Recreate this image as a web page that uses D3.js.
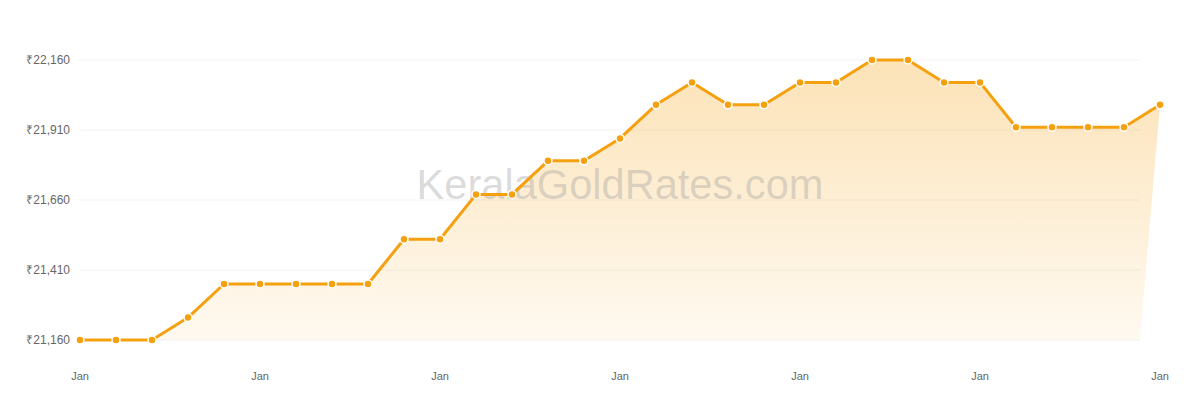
<!DOCTYPE html>
<html>
<head>
<meta charset="utf-8">
<script src="https://cdn.jsdelivr.net/npm/d3@7"></script>
<style>
  html, body { margin: 0; padding: 0; background: #fff; }
  svg { display: block; font-family: "Liberation Sans", Arial, sans-serif; }
  .tick-label { fill: #666; }
</style>
</head>
<body>
<svg id="chart" width="1200" height="400"></svg>
<script>
// daily gold rate (per 8 gram)
const RATES = [
  21160, 21160, 21160, 21240, 21360, 21360, 21360, 21360, 21360, 21520,
  21520, 21680, 21680, 21800, 21800, 21880, 22000, 22080, 22000, 22000,
  22080, 22080, 22160, 22160, 22080, 22080, 21920, 21920, 21920, 21920,
  22000,
];
const Y_TICKS = [21160, 21410, 21660, 21910, 22160];
// x-axis labels every fifth point
const X_LABEL_INDEX = [0, 5, 10, 15, 20, 25, 30];
const X_LABEL = "Jan";

const config = {
  left: 80,
  right: 1160,
  gridRight: 1140,
  top: 60,
  bottom: 340,
  color: "#f5a00f",
};

const svg = d3.select("#chart");

// point index scale (x-axis)
const xScale = d3
  .scaleLinear()
  .domain([0, RATES.length - 1])
  .range([config.left, config.right]);

// rate scale (y-axis)
const yScale = d3
  .scaleLinear()
  .domain([Y_TICKS[0], Y_TICKS[Y_TICKS.length - 1]])
  .range([config.bottom, config.top]);

// gradient for the area fill
const grad = svg
  .append("defs")
  .append("linearGradient")
  .attr("id", "fill-grad")
  .attr("x1", 0)
  .attr("y1", 0)
  .attr("x2", 0)
  .attr("y2", 1);
grad.append("stop").attr("offset", "0%").attr("stop-color", config.color).attr("stop-opacity", 0.3);
grad.append("stop").attr("offset", "100%").attr("stop-color", config.color).attr("stop-opacity", 0.06);

// horizontal gridlines
svg
  .append("g")
  .attr("class", "grid")
  .selectAll("line")
  .data(Y_TICKS)
  .join("line")
  .attr("x1", config.left)
  .attr("x2", config.gridRight)
  .attr("y1", (d) => yScale(d))
  .attr("y2", (d) => yScale(d))
  .attr("stroke", "#f2f2f2")
  .attr("stroke-width", 1);

// y-axis labels
svg
  .append("g")
  .selectAll("text")
  .data(Y_TICKS)
  .join("text")
  .attr("class", "tick-label")
  .attr("x", config.left - 10)
  .attr("y", (d) => yScale(d))
  .attr("dy", "0.35em")
  .attr("text-anchor", "end")
  .attr("font-size", 12)
  .text((d) => "₹" + d3.format(",")(d));

// x-axis labels
svg
  .append("g")
  .selectAll("text")
  .data(X_LABEL_INDEX)
  .join("text")
  .attr("class", "tick-label")
  .attr("x", (d) => xScale(d))
  .attr("y", 380)
  .attr("text-anchor", "middle")
  .attr("font-size", 11)
  .text(X_LABEL);

// area under the line (baseline stops at the grid end)
const last = RATES.length - 1;
svg
  .append("path")
  .datum(RATES)
  .attr("fill", "url(#fill-grad)")
  .attr(
    "d",
    d3
      .area()
      .x0((d, i) => (i === last ? config.gridRight : xScale(i)))
      .x1((d, i) => xScale(i))
      .y0(config.bottom)
      .y1((d) => yScale(d))
  );

// watermark
svg
  .append("text")
  .attr("x", 620)
  .attr("y", 199)
  .attr("text-anchor", "middle")
  .attr("font-size", 41.6)
  .attr("fill", "#999")
  .attr("fill-opacity", 0.35)
  .text("KeralaGoldRates.com");

// rate line
svg
  .append("path")
  .datum(RATES)
  .attr("fill", "none")
  .attr("stroke", config.color)
  .attr("stroke-width", 3)
  .attr("stroke-linejoin", "round")
  .attr(
    "d",
    d3
      .line()
      .x((d, i) => xScale(i))
      .y((d) => yScale(d))
  );

// dots
svg
  .append("g")
  .selectAll("circle")
  .data(RATES)
  .join("circle")
  .attr("cx", (d, i) => xScale(i))
  .attr("cy", (d) => yScale(d))
  .attr("r", 4)
  .attr("fill", config.color)
  .attr("stroke", "#fff")
  .attr("stroke-width", 1.5);
</script>
</body>
</html>
